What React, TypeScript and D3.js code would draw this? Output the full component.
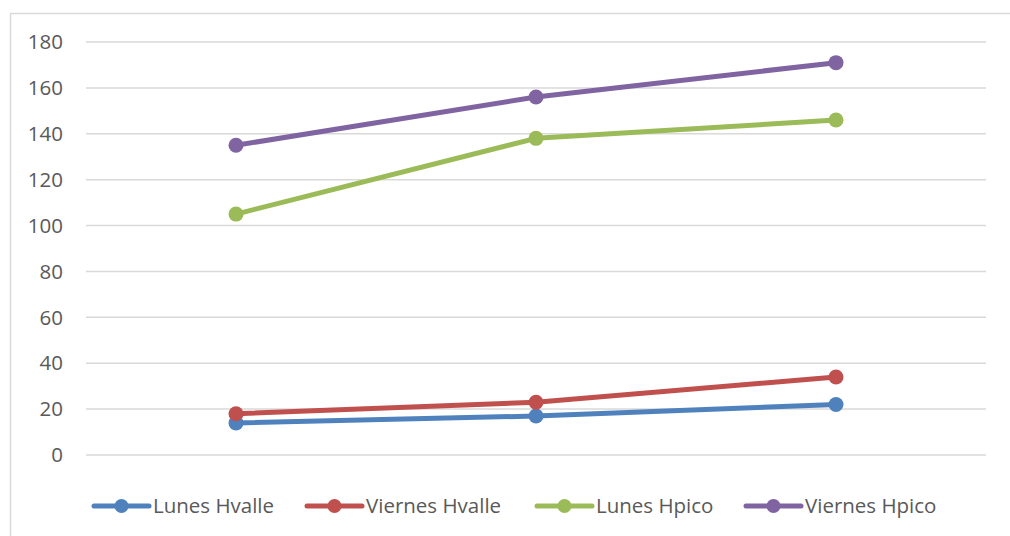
import React, { useEffect, useRef } from "react";
import * as d3 from "d3";

const categories = ["A", "B", "C"];
const seriesNames = ["Lunes Hvalle", "Viernes Hvalle", "Lunes Hpico", "Viernes Hpico"];
const lunesHvalle = [14, 17, 22];
const viernesHvalle = [18, 23, 34];
const lunesHpico = [105, 138, 146];
const viernesHpico = [135, 156, 171];
const yTicks = [0, 20, 40, 60, 80, 100, 120, 140, 160, 180];
const colors = ["#4f81bd", "#c0504d", "#9bbb59", "#8064a2"];

export default function App() {
  const ref = useRef<SVGSVGElement>(null);
  useEffect(() => {
    const svg = d3.select(ref.current);
    svg.selectAll("*").remove();
    const W = 1010, H = 536;
    const font = "'Open Sans', 'Liberation Sans', sans-serif";
    const fs = 20.5;
    svg.append("rect").attr("width", W).attr("height", H).attr("fill", "#fff");
    svg.append("rect").attr("x", 10.5).attr("y", 13.5).attr("width", 1020).attr("height", 540)
      .attr("fill", "none").attr("stroke", "#d9d9d9").attr("stroke-width", 1.5);

    const x = d3.scaleBand().domain(categories).range([86, 986]);
    const y = d3.scaleLinear().domain([0, 180]).range([455, 42]);

    const g = svg.append("g");
    yTicks.forEach((t) => {
      g.append("line").attr("x1", 86).attr("x2", 986).attr("y1", y(t)).attr("y2", y(t))
        .attr("stroke", "#d9d9d9").attr("stroke-width", 1.5);
      g.append("text").attr("x", 63).attr("y", y(t)).attr("dy", "0.35em").attr("text-anchor", "end")
        .attr("font-family", font).attr("font-size", fs).attr("fill", "#595959").text(t);
    });

    const data = [lunesHvalle, viernesHvalle, lunesHpico, viernesHpico];
    const cx = (c: string) => (x(c) as number) + x.bandwidth() / 2;
    const line = d3.line<number>().x((_, i) => cx(categories[i])).y((v) => y(v));
    data.forEach((vals, si) => {
      g.append("path").attr("d", line(vals)).attr("fill", "none").attr("stroke", colors[si])
        .attr("stroke-width", 5).attr("stroke-linecap", "round").attr("stroke-linejoin", "round");
      vals.forEach((v, i) => {
        g.append("circle").attr("cx", cx(categories[i])).attr("cy", y(v)).attr("r", 7.5).attr("fill", colors[si]);
      });
    });

    const legendX = [94, 307, 537, 746];
    const ly = 506;
    seriesNames.forEach((n, i) => {
      const lx = legendX[i];
      g.append("line").attr("x1", lx).attr("x2", lx + 55).attr("y1", ly).attr("y2", ly)
        .attr("stroke", colors[i]).attr("stroke-width", 5).attr("stroke-linecap", "round");
      g.append("circle").attr("cx", lx + 27.5).attr("cy", ly).attr("r", 7).attr("fill", colors[i]);
      g.append("text").attr("x", lx + 59).attr("y", ly).attr("dy", "0.35em")
        .attr("font-family", font).attr("font-size", fs).attr("fill", "#595959").text(n);
    });
  }, []);
  return (
    <svg ref={ref} width={1010} height={536} style={{ position: "absolute", left: 0, top: 0 }} />
  );
}
